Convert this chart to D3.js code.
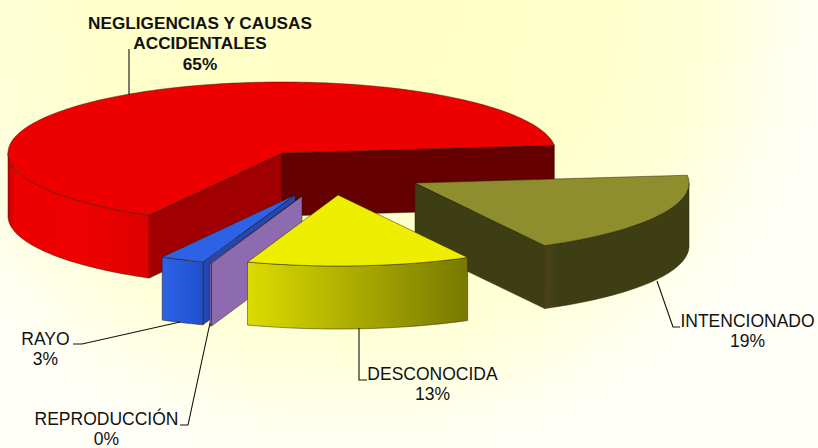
<!DOCTYPE html>
<html>
<head>
<meta charset="utf-8">
<script src="https://cdn.jsdelivr.net/npm/d3@7/dist/d3.min.js"></script>
<style>
html,body{margin:0;padding:0;background:#fffff0;overflow:hidden}
svg{display:block}
text{font-family:"Liberation Sans",Arial,sans-serif;font-size:17.5px;fill:#111}
text.bold{font-size:17.2px;font-weight:bold}
</style>
</head>
<body>
<script>
const categories = ["NEGLIGENCIAS Y CAUSAS ACCIDENTALES", "INTENCIONADO", "DESCONOCIDA", "REPRODUCCIÓN", "RAYO"];
const values = [65.2, 18.9, 13.2, 0.1, 2.6];
const labelLines = [["NEGLIGENCIAS Y CAUSAS", "ACCIDENTALES"], ["INTENCIONADO"], ["DESCONOCIDA"], ["REPRODUCCIÓN"], ["RAYO"]];

const W = 818, H = 448, RX = 274, RY = 71, DEPTH = 63;
const DEG = Math.PI / 180;
const centers = [[282,153],[415,183],[338,195],[302,196],[295,195]];
const drawOrder = [0,1,4,3,2];
const tops   = ["#ee0000","#8e8e2e","#eeee00","#8e6bb0","#2e62e4"];
const startWalls = ["#a00000","#3e3e14","#eeee00","#8e6bb0","#2048b8"];
const endWalls   = ["#640000","#3e3e14","#eeee00","#8e6bb0","#2048b8"];
const outerStops = [
  [["0%","#cc0000"],["5%","#ee0000"],["55%","#f00000"],["100%","#dc0000"]],
  [["0%","#4a4218"],["10%","#3e3e14"],["100%","#3e3e14"]],
  [["0%","#dcdc00"],["100%","#787800"]],
  [["0%","#8e6bb0"],["100%","#8e6bb0"]],
  [["0%","#2e62e4"],["100%","#2050d0"]]
];
const leaderLines = [
  [[129,95],[129,49]],
  [[657,281],[673,327],[680,327]],
  [[359,328],[359,380],[367,380]],
  [[210,323],[188,425],[180,425]],
  [[180,322],[82,344],[73,344]]
];
const labelPos = [[200,29],[747.5,327],[432.5,380],[106.5,425],[45.5,345]];

const svg = d3.select("body").append("svg").attr("width",W).attr("height",H);
const defs = svg.append("defs");
const bg = defs.append("radialGradient").attr("id","bg").attr("gradientUnits","userSpaceOnUse")
  .attr("cx",0).attr("cy",0).attr("r",1).attr("gradientTransform","translate(350,0) scale(480,470)");
[["0%","#ffffc6"],["50%","#ffffca"],["73%","#ffffd8"],["100%","#fffff8"]].forEach(([o,c])=>
  bg.append("stop").attr("offset",o).attr("stop-color",c));
svg.append("rect").attr("width",W).attr("height",H).attr("fill","url(#bg)");

const pie = d3.pie().sort(null).startAngle(209*DEG).endAngle(569*DEG);
const arcs = pie(values);
const line = d3.line();

function surfaces(i){
  const a = arcs[i], [cx,cy] = centers[i];
  const x = d3.scaleLinear().domain([-1,1]).range([cx-RX,cx+RX]);
  const y = d3.scaleLinear().domain([-1,1]).range([cy+RY,cy-RY]);
  const pt = (t,dz=0)=>[x(Math.sin(t)), y(Math.cos(t))+dz];
  const arcPts = (t0,t1,dz=0)=>{
    const n = Math.max(2,Math.ceil(Math.abs(t1-t0)/DEG));
    return d3.range(n+1).map(k=>pt(t0+(t1-t0)*k/n,dz));
  };
  return {a,cx,cy,pt,arcPts};
}

drawOrder.forEach(i=>{
  const s = surfaces(i), {a,cx,cy} = s;
  const g = svg.append("g");
  const add = (pts,fill)=>{
    g.append("path").attr("d",line(pts)+"Z").attr("fill",fill)
     .attr("stroke","#2a1a00").attr("stroke-width",0.6).attr("stroke-opacity",0.8);
  };
  if(Math.sin(a.startAngle) < 0){
    const p = s.pt(a.startAngle);
    add([[cx,cy],p,[p[0],p[1]+DEPTH],[cx,cy+DEPTH]],startWalls[i]);
  }
  if(Math.sin(a.endAngle) > 0){
    const p = s.pt(a.endAngle);
    add([[cx,cy],p,[p[0],p[1]+DEPTH],[cx,cy+DEPTH]],endWalls[i]);
  }
  let t0=null,t1=null;
  [[90*DEG,270*DEG],[450*DEG,630*DEG]].forEach(([lo,hi])=>{
    const u0=Math.max(a.startAngle,lo), u1=Math.min(a.endAngle,hi);
    if(u1>u0 && t0===null){t0=u0;t1=u1;}
  });
  if(t0!==null){
    const topArc = s.arcPts(t0,t1), botArc = s.arcPts(t1,t0,DEPTH);
    const xs = topArc.map(d=>d[0]);
    const gid = "outer"+i;
    const gr = defs.append("linearGradient").attr("id",gid).attr("gradientUnits","userSpaceOnUse")
      .attr("x1",d3.min(xs)).attr("x2",d3.max(xs)).attr("y1",0).attr("y2",0);
    outerStops[i].forEach(([o,c])=>gr.append("stop").attr("offset",o).attr("stop-color",c));
    add(topArc.concat(botArc),`url(#${gid})`);
  }
  add([[cx,cy]].concat(s.arcPts(a.startAngle,a.endAngle)),tops[i]);
});

const leaderPath = d3.line();
svg.append("g").selectAll("path").data(leaderLines).join("path")
  .attr("d",d=>leaderPath(d)).attr("fill","none").attr("stroke","#111").attr("stroke-width",1.1);

const pct = d3.format(".0f");
const labels = svg.append("g");
labelLines.forEach((lines,i)=>{
  const [lx,ly] = labelPos[i];
  const all = lines.concat([pct(values[i])+"%"]);
  const t = labels.append("text").attr("text-anchor","middle").attr("class",i===0?"bold":null);
  all.forEach((txt,k)=>t.append("tspan").attr("x",lx).attr("y",ly+k*20.3).text(txt));
});
</script>
</body>
</html>
